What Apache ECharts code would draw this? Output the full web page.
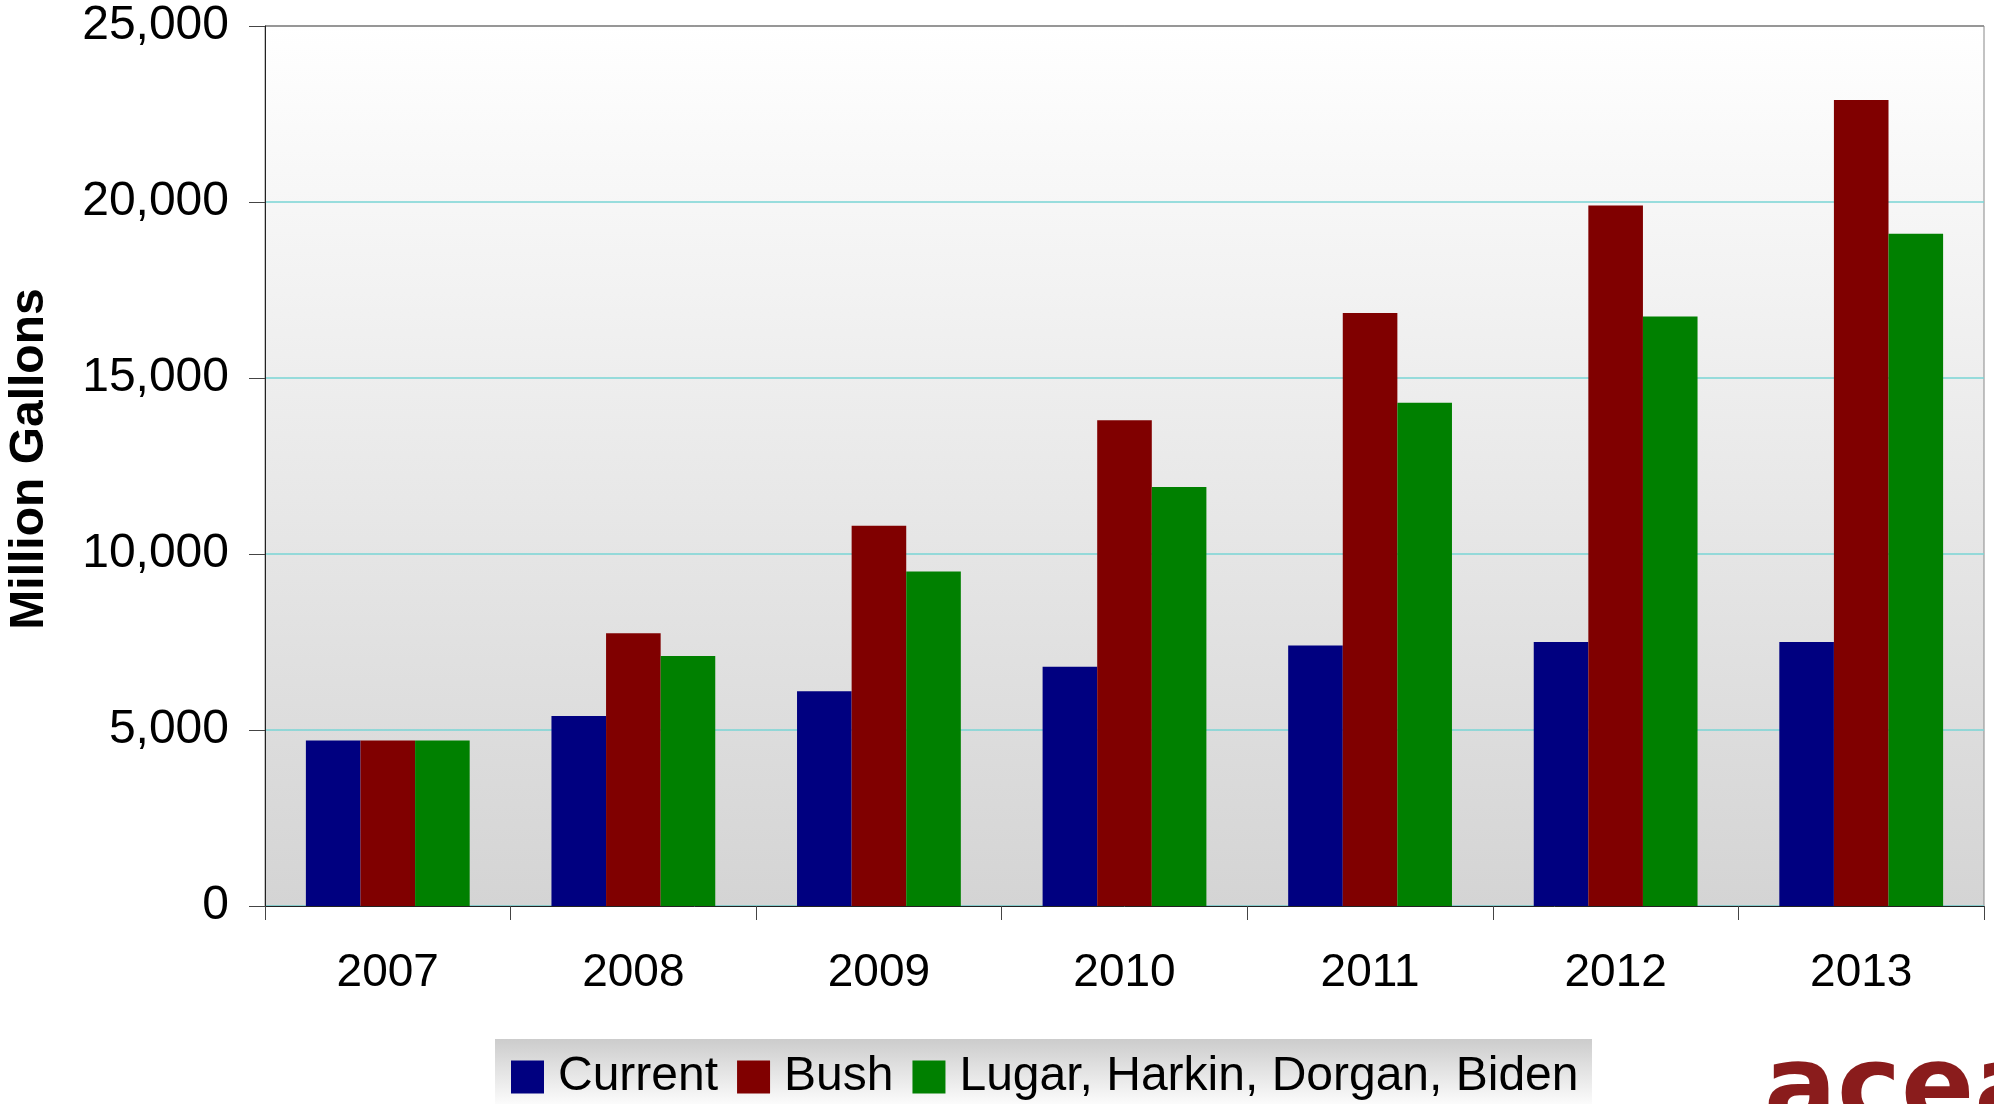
<!DOCTYPE html>
<html>
<head>
<meta charset="utf-8">
<style>
  html, body { margin: 0; padding: 0; background: #ffffff; }
  #chart { width: 1994px; height: 1104px; }
</style>
<script src="https://cdn.jsdelivr.net/npm/echarts@6/dist/echarts.min.js"></script>
</head>
<body>
<div id="chart"></div>
<script>
// Ethanol volume by year under three proposals (million gallons)
const years = ['2007', '2008', '2009', '2010', '2011', '2012', '2013'];
const currentVals = [4700, 5400, 6100, 6800, 7400, 7500, 7500];
const bushVals = [4700, 7750, 10800, 13800, 16850, 19900, 22900];
const lugarVals = [4700, 7100, 9500, 11900, 14300, 16750, 19100];
const seriesNames = ['Current', 'Bush', 'Lugar, Harkin, Dorgan, Biden'];
const yTicks = [0, 5000, 10000, 15000, 20000, 25000];

const FONT = '"Liberation Sans", Arial, sans-serif';
const chart = echarts.init(document.getElementById('chart'), null, { renderer: 'canvas' });

const option = {
  animation: false,
  backgroundColor: '#ffffff',
  grid: {
    left: 265, right: 10, top: 26, bottom: 198,
    outerBoundsMode: 'none',
    containLabel: false,
    show: true,
    borderColor: '#888888',
    borderWidth: 1,
    backgroundColor: {
      type: 'linear', x: 0, y: 0, x2: 0, y2: 1,
      colorStops: [
        { offset: 0, color: '#ffffff' },
        { offset: 1, color: '#d4d4d4' }
      ]
    }
  },
  legend: {
    data: seriesNames,
    left: 511,
    top: 1053,
    icon: 'rect',
    itemWidth: 33,
    itemHeight: 33,
    itemGap: 19,
    selectedMode: false,
    padding: 0,
    textStyle: {
      fontFamily: FONT,
      fontSize: 48,
      color: '#000000',
      padding: [0, 0, 0, 9]
    }
  },
  xAxis: {
    type: 'category',
    data: years,
    axisLine: { show: true, lineStyle: { color: '#222222', width: 1 } },
    axisTick: { show: true, length: 14, lineStyle: { color: '#444444' } },
    axisLabel: { fontFamily: FONT, fontSize: 46, color: '#000000', margin: 44 },
    splitLine: { show: false }
  },
  yAxis: {
    type: 'value',
    min: yTicks[0],
    max: yTicks[yTicks.length - 1],
    interval: yTicks[1] - yTicks[0],
    name: 'Million Gallons',
    nameLocation: 'middle',
    nameRotate: 90,
    nameGap: 211,
    nameTextStyle: {
      fontFamily: FONT, fontSize: 48, fontWeight: 'bold', color: '#000000',
      padding: [0, 0, 0, 14]
    },
    axisLine: { show: true, lineStyle: { color: '#222222', width: 1 } },
    axisTick: { show: true, length: 16, lineStyle: { color: '#444444' } },
    axisLabel: {
      fontFamily: FONT, fontSize: 48, color: '#000000', margin: 36,
      formatter: v => v.toLocaleString('en-US')
    },
    splitLine: {
      show: true,
      lineStyle: {
        color: ['#78d4d4', '#78d4d4', '#78d4d4', '#78d4d4', '#78d4d4', '#888888'],
        width: 1.5
      }
    }
  },
  graphic: [
    {
      type: 'rect',
      z: -1,
      shape: { x: 495, y: 1039, width: 1097, height: 70 },
      style: {
        fill: {
          type: 'linear', x: 0, y: 0, x2: 0, y2: 1,
          colorStops: [
            { offset: 0, color: '#cccccc' },
            { offset: 1, color: '#ffffff' }
          ]
        }
      }
    },
    {
      type: 'text',
      left: 1764,
      top: 1040,
      style: {
        text: 'acea',
        font: 'bold 108px "DejaVu Sans", sans-serif',
        fill: '#8a1c1c'
      }
    }
  ],
  series: [
    { name: seriesNames[0], type: 'bar', data: currentVals, itemStyle: { color: '#000080' }, barGap: '0%', barCategoryGap: '33.3%' },
    { name: seriesNames[1], type: 'bar', data: bushVals, itemStyle: { color: '#800000' }, barGap: '0%', barCategoryGap: '33.3%' },
    { name: seriesNames[2], type: 'bar', data: lugarVals, itemStyle: { color: '#008000' }, barGap: '0%', barCategoryGap: '33.3%' }
  ]
};

chart.setOption(option);
</script>
</body>
</html>
